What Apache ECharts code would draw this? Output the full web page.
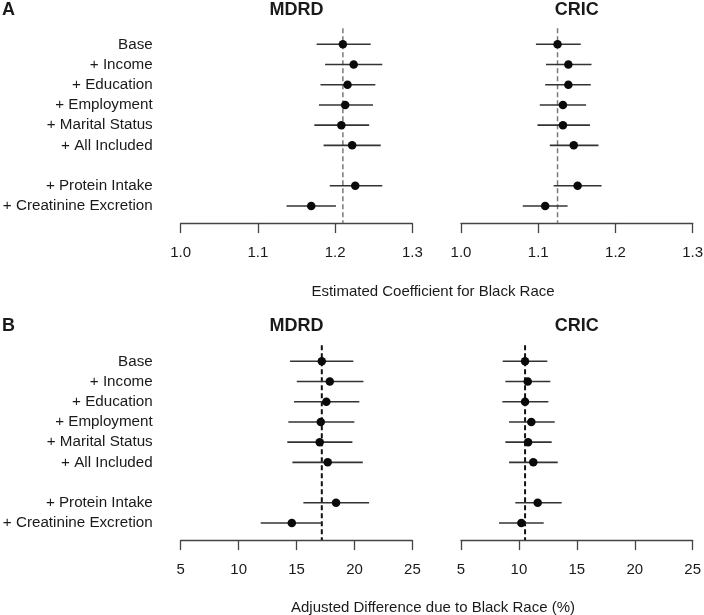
<!DOCTYPE html>
<html>
<head>
<meta charset="utf-8">
<script src="https://cdn.jsdelivr.net/npm/echarts@6/dist/echarts.min.js"></script>
<style>
html,body{margin:0;padding:0;background:#fff;}
#chart{width:704px;height:615px;}
</style>
</head>
<body>
<div id="chart"></div>
<script>
// Row categories ('' is the spacer row between groups)
var categories = ['Base', '+ Income', '+ Education', '+ Employment', '+ Marital Status', '+ All Included', '', '+ Protein Intake', '+ Creatinine Excretion'];

// Panel A: estimated coefficient for Black race
var mdrdCoef   = [1.210, 1.224, 1.216, 1.213, 1.208, 1.222, null, 1.226, 1.169];
var mdrdCoefLo = [1.176, 1.187, 1.181, 1.179, 1.173, 1.185, null, 1.193, 1.137];
var mdrdCoefHi = [1.246, 1.261, 1.252, 1.249, 1.244, 1.259, null, 1.261, 1.201];
var cricCoef   = [1.125, 1.139, 1.139, 1.132, 1.132, 1.146, null, 1.151, 1.109];
var cricCoefLo = [1.097, 1.110, 1.109, 1.102, 1.099, 1.115, null, 1.120, 1.080];
var cricCoefHi = [1.155, 1.169, 1.168, 1.162, 1.167, 1.178, null, 1.182, 1.138];

// Panel B: adjusted difference due to Black race (%)
var mdrdPct   = [17.18, 17.87, 17.57, 17.09, 17.00, 17.69, null, 18.41, 14.59];
var mdrdPctLo = [14.44, 15.02, 14.78, 14.29, 14.20, 14.64, null, 15.59, 11.91];
var mdrdPctHi = [19.90, 20.77, 20.42, 19.99, 19.82, 20.72, null, 21.26, 17.18];
var cricPct   = [10.53, 10.76, 10.53, 11.07, 10.79, 11.24, null, 11.62, 10.21];
var cricPctLo = [8.60, 8.83, 8.57, 9.15, 8.83, 9.15, null, 9.69, 8.28];
var cricPctHi = [12.45, 12.71, 12.54, 13.09, 12.83, 13.35, null, 13.69, 12.14];

// Axis ticks
var coefTicks = {min: 1.0, max: 1.3, interval: 0.1};
var pctTicks = {min: 5, max: 25, interval: 5};

var panelTitles = ['MDRD', 'CRIC'];
var axisTitles = ['Estimated Coefficient for Black Race', 'Adjusted Difference due to Black Race (%)'];
var panelLetters = ['A', 'B'];

var FONT = '"Liberation Sans", Arial, Helvetica, sans-serif';
var TXT = '#1a1a1a';

var panels = [
  {est: mdrdCoef, lo: mdrdCoefLo, hi: mdrdCoefHi, ticks: coefTicks, fmt: function (v) { return v.toFixed(1); }, left: 180.7, top: 34.2, ref: '#7a7a7a', refW: 1.5, labels: true},
  {est: cricCoef, lo: cricCoefLo, hi: cricCoefHi, ticks: coefTicks, fmt: function (v) { return v.toFixed(1); }, left: 461, top: 34.2, ref: '#7a7a7a', refW: 1.5, labels: false},
  {est: mdrdPct, lo: mdrdPctLo, hi: mdrdPctHi, ticks: pctTicks, fmt: function (v) { return String(Math.round(v)); }, left: 180.7, top: 351.2, ref: '#111', refW: 2, labels: true},
  {est: cricPct, lo: cricPctLo, hi: cricPctHi, ticks: pctTicks, fmt: function (v) { return String(Math.round(v)); }, left: 461, top: 351.2, ref: '#111', refW: 2, labels: false}
];

var PW = 231.7, PH = 181.9;
var grids = [], xAxes = [], yAxes = [], series = [];

panels.forEach(function (p, i) {
  grids.push({left: p.left, top: p.top, width: PW, height: PH, containLabel: false, outerBoundsMode: 'none'});
  xAxes.push({
    type: 'value', gridIndex: i, min: p.ticks.min, max: p.ticks.max, interval: p.ticks.interval,
    offset: 7, position: 'bottom',
    axisLine: {show: true, lineStyle: {color: '#444', width: 1.3}},
    axisTick: {show: true, length: 10, lineStyle: {color: '#444', width: 1.3}},
    axisLabel: {show: true, margin: 22, color: TXT, fontSize: 15, fontFamily: FONT, formatter: p.fmt},
    splitLine: {show: false}
  });
  yAxes.push({
    type: 'category', gridIndex: i, data: categories, inverse: true,
    axisLine: {show: false}, axisTick: {show: false}, splitLine: {show: false},
    axisLabel: {show: p.labels, margin: 28, color: TXT, fontSize: 15.2, fontFamily: FONT, interval: 0}
  });

  // reference (base) dashed line
  series.push({
    type: 'custom', xAxisIndex: i, yAxisIndex: i, silent: true, z: 1,
    data: [[p.est[0]]],
    renderItem: (function (p) {
      return function (params, api) {
        var x = api.coord([api.value(0), 0])[0];
        var cs = params.coordSys;
        return {type: 'line', shape: {x1: x, y1: cs.y - 6, x2: x, y2: cs.y + cs.height + 7},
          style: {stroke: p.ref, lineWidth: p.refW, lineDash: [5, 3]}};
      };
    })(p)
  });

  // error bars
  var barData = [];
  p.est.forEach(function (v, k) { if (v !== null) barData.push([k, p.lo[k], p.hi[k]]); });
  series.push({
    type: 'custom', xAxisIndex: i, yAxisIndex: i, silent: true, z: 2,
    encode: {x: [1, 2], y: 0},
    data: barData,
    renderItem: function (params, api) {
      var y = api.value(0);
      var a = api.coord([api.value(1), y]);
      var b = api.coord([api.value(2), y]);
      return {type: 'line', shape: {x1: a[0], y1: a[1], x2: b[0], y2: b[1]},
        style: {stroke: '#333', lineWidth: 1.6}};
    }
  });

  // point estimates
  var ptData = [];
  p.est.forEach(function (v, k) { if (v !== null) ptData.push([v, k]); });
  series.push({
    type: 'scatter', xAxisIndex: i, yAxisIndex: i, z: 3, silent: true,
    symbol: 'circle', symbolSize: 8.5,
    itemStyle: {color: '#0a0a0a', opacity: 1},
    data: ptData
  });
});

var titles = [];
[0, 1].forEach(function (r) {
  var yTop = r === 0 ? 1 : 317;
  titles.push({text: panelLetters[r], left: 2, top: yTop, textStyle: {fontFamily: FONT, fontSize: 18, fontWeight: 'bold', color: TXT}, padding: 0});
  titles.push({text: panelTitles[0], left: 296.6, top: yTop, textAlign: 'center', textStyle: {fontFamily: FONT, fontSize: 18, fontWeight: 'bold', color: TXT}, padding: 0});
  titles.push({text: panelTitles[1], left: 576.8, top: yTop, textAlign: 'center', textStyle: {fontFamily: FONT, fontSize: 18, fontWeight: 'bold', color: TXT}, padding: 0});
  titles.push({text: axisTitles[r], left: 433, top: r === 0 ? 284 : 600.5, textAlign: 'center', textStyle: {fontFamily: FONT, fontSize: 15, fontWeight: 'normal', color: TXT}, padding: 0});
});

var chart = echarts.init(document.getElementById('chart'), null, {renderer: 'canvas'});
chart.setOption({
  animation: false,
  backgroundColor: '#fff',
  title: titles,
  grid: grids,
  xAxis: xAxes,
  yAxis: yAxes,
  series: series
});
</script>
</body>
</html>
